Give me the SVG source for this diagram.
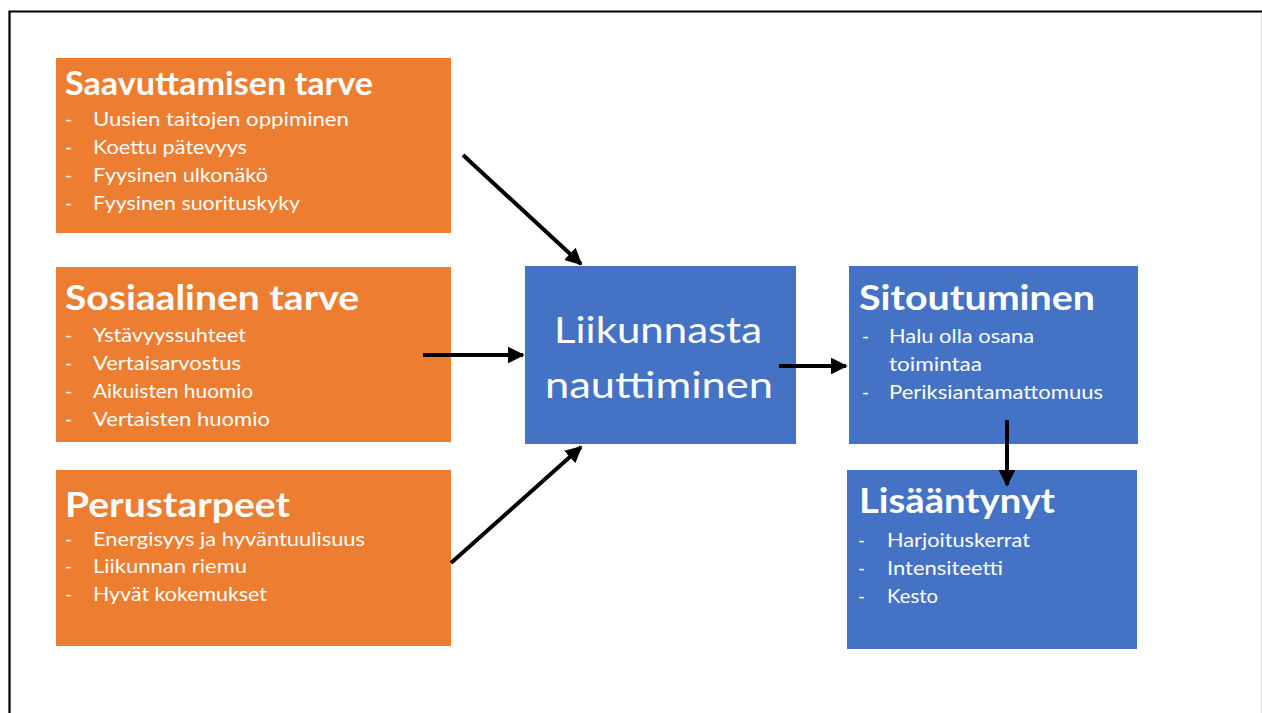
<svg xmlns="http://www.w3.org/2000/svg" width="1262" height="713" viewBox="0 0 1262 713">
  <style>
    .need { fill: #ED7D31; }
    .flow { fill: #4472C4; }
    text { font-family: Lato, "Open Sans", "Liberation Sans", sans-serif; fill: #FFFFFF; }
    .title { font-size: 32px; font-weight: bold; }
    .item { font-size: 19px; }
    .big { font-size: 37px; }
    .conn { stroke: #000000; stroke-width: 4; fill: none; marker-end: url(#head); }
  </style>
  <defs>
    <marker id="head" viewBox="0 0 10 10" refX="9" refY="5" markerWidth="4.2" markerHeight="4.2" orient="auto" markerUnits="strokeWidth">
      <path d="M0,0 L10,5 L0,10 Z" fill="#000000"/>
    </marker>
  </defs>

  <rect width="1262" height="713" fill="#FFFFFF"/>
  <!-- slide frame -->
  <path d="M9.5,713 V11.5 H1262" fill="none" stroke="#000000" stroke-width="2.2"/>
  <line x1="1261.5" y1="13" x2="1261.5" y2="713" stroke="#DADADA" stroke-width="1"/>

  <g id="saavuttamisen-tarve">
    <rect class="need" x="56" y="58" width="395" height="175"/>
    <text class="title" x="65" y="95" textLength="308" lengthAdjust="spacingAndGlyphs">Saavuttamisen tarve</text>
    <text class="item" x="65" y="126">-</text>
    <text class="item" x="93" y="126" textLength="256" lengthAdjust="spacingAndGlyphs">Uusien taitojen oppiminen</text>
    <text class="item" x="65" y="154">-</text>
    <text class="item" x="93" y="154" textLength="154" lengthAdjust="spacingAndGlyphs">Koettu pätevyys</text>
    <text class="item" x="65" y="182">-</text>
    <text class="item" x="93" y="182" textLength="175" lengthAdjust="spacingAndGlyphs">Fyysinen ulkonäkö</text>
    <text class="item" x="65" y="210">-</text>
    <text class="item" x="93" y="210" textLength="207" lengthAdjust="spacingAndGlyphs">Fyysinen suorituskyky</text>
  </g>

  <g id="sosiaalinen-tarve">
    <rect class="need" x="56" y="267" width="395" height="175"/>
    <text class="title" x="65" y="310" textLength="294" lengthAdjust="spacingAndGlyphs" style="font-size:35px">Sosiaalinen tarve</text>
    <text class="item" x="65" y="342">-</text>
    <text class="item" x="93" y="342" textLength="153" lengthAdjust="spacingAndGlyphs">Ystävyyssuhteet</text>
    <text class="item" x="65" y="370">-</text>
    <text class="item" x="93" y="370" textLength="148" lengthAdjust="spacingAndGlyphs">Vertaisarvostus</text>
    <text class="item" x="65" y="398">-</text>
    <text class="item" x="93" y="398" textLength="160" lengthAdjust="spacingAndGlyphs">Aikuisten huomio</text>
    <text class="item" x="65" y="426">-</text>
    <text class="item" x="93" y="426" textLength="177" lengthAdjust="spacingAndGlyphs">Vertaisten huomio</text>
  </g>

  <g id="perustarpeet">
    <rect class="need" x="56" y="470" width="395" height="176"/>
    <text class="title" x="65" y="517" textLength="225" lengthAdjust="spacingAndGlyphs" style="font-size:35px">Perustarpeet</text>
    <text class="item" x="65" y="546">-</text>
    <text class="item" x="93" y="546" textLength="272" lengthAdjust="spacingAndGlyphs">Energisyys ja hyväntuulisuus</text>
    <text class="item" x="65" y="573">-</text>
    <text class="item" x="93" y="573" textLength="154" lengthAdjust="spacingAndGlyphs">Liikunnan riemu</text>
    <text class="item" x="65" y="601">-</text>
    <text class="item" x="93" y="601" textLength="174" lengthAdjust="spacingAndGlyphs">Hyvät kokemukset</text>
  </g>

  <g id="liikunnasta-nauttiminen">
    <rect class="flow" x="525" y="266" width="271" height="178"/>
    <text class="big" x="554" y="343" textLength="208" lengthAdjust="spacingAndGlyphs">Liikunnasta</text>
    <text class="big" x="545" y="398" textLength="228" lengthAdjust="spacingAndGlyphs">nauttiminen</text>
  </g>

  <g id="sitoutuminen">
    <rect class="flow" x="849" y="266" width="289" height="178"/>
    <text class="title" x="859" y="310" textLength="236" lengthAdjust="spacingAndGlyphs" style="font-size:34px">Sitoutuminen</text>
    <text class="item" x="862" y="343">-</text>
    <text class="item" x="889" y="343" textLength="145" lengthAdjust="spacingAndGlyphs">Halu olla osana</text>
    <text class="item" x="889" y="371" textLength="93" lengthAdjust="spacingAndGlyphs">toimintaa</text>
    <text class="item" x="862" y="399">-</text>
    <text class="item" x="889" y="399" textLength="214" lengthAdjust="spacingAndGlyphs">Periksiantamattomuus</text>
  </g>

  <g id="lisaantynyt">
    <rect class="flow" x="847" y="470" width="290" height="179"/>
    <text class="title" x="859" y="513" textLength="196" lengthAdjust="spacingAndGlyphs" style="font-size:35px">Lisääntynyt</text>
    <text class="item" x="858" y="547">-</text>
    <text class="item" x="887" y="547" textLength="143" lengthAdjust="spacingAndGlyphs">Harjoituskerrat</text>
    <text class="item" x="858" y="575">-</text>
    <text class="item" x="887" y="575" textLength="116" lengthAdjust="spacingAndGlyphs">Intensiteetti</text>
    <text class="item" x="858" y="603">-</text>
    <text class="item" x="887" y="603" textLength="51" lengthAdjust="spacingAndGlyphs">Kesto</text>
  </g>

  <g id="connectors">
    <line class="conn" x1="463" y1="155" x2="581" y2="264"/>
    <line class="conn" x1="423" y1="355" x2="523" y2="355"/>
    <line class="conn" x1="451" y1="563" x2="581" y2="447"/>
    <line class="conn" x1="779" y1="366" x2="846" y2="366"/>
    <line class="conn" x1="1007" y1="420" x2="1007" y2="485"/>
  </g>
</svg>
